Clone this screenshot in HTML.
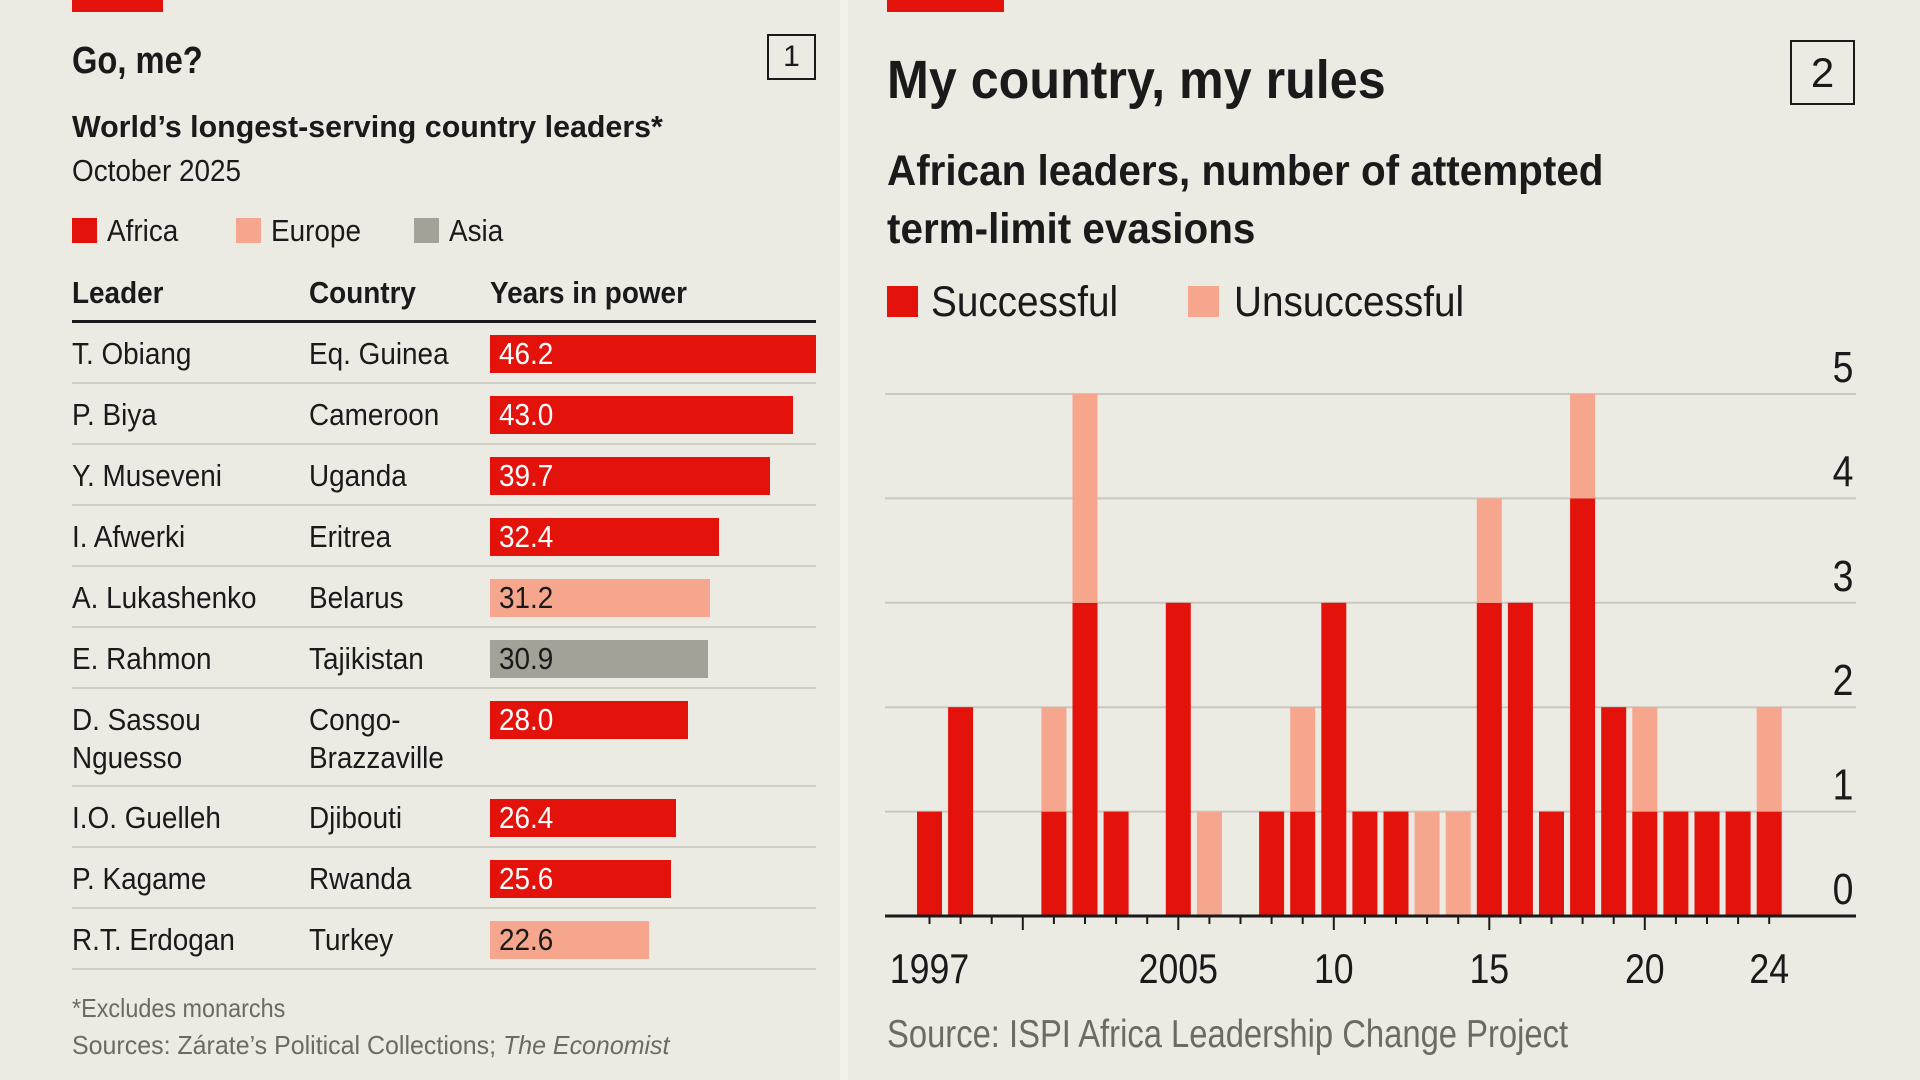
<!DOCTYPE html>
<html><head><meta charset="utf-8">
<style>
body{margin:0;width:1920px;height:1080px;background:#ecebe3;position:relative;overflow:hidden;font-family:"Liberation Sans",sans-serif;color:#1a1a1a}
.t{position:absolute;white-space:nowrap;transform:scaleX(.9);transform-origin:0 0;line-height:1}
.b{font-weight:bold}
.box{position:absolute;border:2px solid #1a1a1a;box-sizing:border-box;text-align:center}
.sq{position:absolute}
</style></head><body>
<div style="position:absolute;left:840px;top:0;width:8px;height:1080px;background:#f2f1ea"></div>
<div style="position:absolute;left:72px;top:0;width:91px;height:12px;background:#e3120b"></div>
<div class="t b" style="left:72px;top:42px;font-size:38px;transform:scaleX(.86)">Go, me?</div>
<div class="box" style="left:767px;top:34px;width:49px;height:46px;font-size:30px;line-height:42px">1</div>
<div class="t b" style="left:72px;top:111px;font-size:31px;transform:scaleX(.98)">World’s longest-serving country leaders*</div>
<div class="t" style="left:72px;top:155px;font-size:31px">October 2025</div>
<div class="sq" style="left:72px;top:218px;width:25px;height:25px;background:#e3120b"></div>
<div class="t" style="left:107px;top:215px;font-size:31px">Africa</div>
<div class="sq" style="left:236px;top:218px;width:25px;height:25px;background:#f6a68d"></div>
<div class="t" style="left:271px;top:215px;font-size:31px">Europe</div>
<div class="sq" style="left:414px;top:218px;width:25px;height:25px;background:#a3a198"></div>
<div class="t" style="left:449px;top:215px;font-size:31px">Asia</div>
<div class="t b" style="left:72px;top:277px;font-size:31px">Leader</div>
<div class="t b" style="left:309px;top:277px;font-size:31px">Country</div>
<div class="t b" style="left:490px;top:277px;font-size:31px">Years in power</div>
<div style="position:absolute;left:72px;top:320px;width:744px;height:3px;background:#1a1a1a"></div>
<div id="table"></div>
<div class="t" style="left:72px;top:995px;font-size:26px;color:#6b6a64">*Excludes monarchs</div>
<div class="t" style="left:72px;top:1032px;font-size:26px;color:#6b6a64;transform:scaleX(.96)">Sources: Zárate’s Political Collections; <i>The Economist</i></div>

<div style="position:absolute;left:887px;top:0;width:117px;height:12px;background:#e3120b"></div>
<div class="t b" style="left:887px;top:53px;font-size:54px;transform:scaleX(.93)">My country, my rules</div>
<div class="box" style="left:1790px;top:40px;width:65px;height:65px;font-size:42px;line-height:61px">2</div>
<div class="t b" style="left:887px;top:142px;font-size:43px;line-height:58px;transform:scaleX(.94)">African leaders, number of attempted<br>term-limit evasions</div>
<div class="sq" style="left:887px;top:286px;width:31px;height:31px;background:#e3120b"></div>
<div class="t" style="left:931px;top:281px;font-size:43px">Successful</div>
<div class="sq" style="left:1188px;top:286px;width:31px;height:31px;background:#f6a68d"></div>
<div class="t" style="left:1234px;top:281px;font-size:43px">Unsuccessful</div>
<svg id="chart" style="position:absolute;left:0;top:0" width="1920" height="1080"></svg>
<div class="t" style="left:887px;top:1015px;font-size:39px;color:#6b6a64;transform:scaleX(.84)">Source: ISPI Africa Leadership Change Project</div>

<script>
const leaders=["T. Obiang","P. Biya","Y. Museveni","I. Afwerki","A. Lukashenko","E. Rahmon","D. Sassou<br>Nguesso","I.O. Guelleh","P. Kagame","R.T. Erdogan"];
const countries=["Eq. Guinea","Cameroon","Uganda","Eritrea","Belarus","Tajikistan","Congo-<br>Brazzaville","Djibouti","Rwanda","Turkey"];
const yearsInPower=[46.2,43.0,39.7,32.4,31.2,30.9,28.0,26.4,25.6,22.6];
const regions=["Africa","Africa","Africa","Africa","Europe","Asia","Africa","Africa","Africa","Europe"];

const years=[1997,1998,1999,2000,2001,2002,2003,2004,2005,2006,2007,2008,2009,2010,2011,2012,2013,2014,2015,2016,2017,2018,2019,2020,2021,2022,2023,2024];
const successful=[1,2,0,0,1,3,1,0,3,0,0,1,1,3,1,1,0,0,3,3,1,4,2,1,1,1,1,1];
const unsuccessful=[0,0,0,0,1,2,0,0,0,1,0,0,1,0,0,0,1,1,1,0,0,1,0,1,0,0,0,1];
const yTicks=[0,1,2,3,4,5];
const xLabels=["1997","2005","10","15","20","24"];
const xLabelYears=[1997,2005,2010,2015,2020,2024];

const colors={Africa:"#e3120b",Europe:"#f6a68d",Asia:"#a3a198"};
const tbl=document.getElementById('table');
const barX0=490, pxPerYear=326/46.2;
let rowTop=323;
leaders.forEach((l,i)=>{
  const h=(i===6)?98:61;
  const row=document.createElement('div');
  
  
  row.style.cssText=`position:absolute;left:0;top:${rowTop}px;width:840px;height:${h}px`;
  const bar=document.createElement('div');
  
  
  bar.style.cssText=`position:absolute;left:${barX0}px;top:12px;height:38px;width:${yearsInPower[i]*pxPerYear}px;background:${colors[regions[i]]}`;
  row.appendChild(bar);
  const val=document.createElement('div');
  
  
  val.className='t';
  val.style.cssText=`left:${barX0+9}px;top:15px;font-size:31px;color:${regions[i]==="Africa"?"#fff":"#1a1a1a"}`;
  val.textContent=yearsInPower[i].toFixed(1);
  row.appendChild(val);
  const ln=document.createElement('div');
  
  
  ln.className='t';
  ln.style.cssText='left:72px;top:12px;font-size:31px;line-height:38px';
  ln.innerHTML=l;
  row.appendChild(ln);
  const cn=document.createElement('div');
  
  
  cn.className='t';
  cn.style.cssText='left:309px;top:12px;font-size:31px;line-height:38px';
  cn.innerHTML=countries[i];
  row.appendChild(cn);
  const sep=document.createElement('div');
  
  
  sep.style.cssText=`position:absolute;left:72px;top:${h-2}px;width:744px;height:2px;background:#cfcdc4`;
  row.appendChild(sep);
  tbl.appendChild(row);
  rowTop+=h;
});

const svg=document.getElementById('chart');
const NS='http://www.w3.org/2000/svg';
const y0=916, unit=104.4, x0=929.5, pitch=31.1, bw=25;
const yS=v=>y0-v*unit;
const xS=yr=>x0+(yr-1997)*pitch;
function mk(tag,attrs){const e=document.createElementNS(NS,tag);for(const k in attrs)e.setAttribute(k,attrs[k]);svg.appendChild(e);return e;}
yTicks.forEach(v=>{
  if(v>0){const g=mk('line',{x1:885,x2:1856,y1:yS(v),y2:yS(v),stroke:'#c9c7bf','stroke-width':2});
  
  }
  const t=mk('text',{transform:`translate(1843,${yS(v)-12}) scale(0.85,1)`,'text-anchor':'middle','font-size':44,fill:'#1a1a1a'});
  
  
  t.textContent=v;
});
years.forEach((yr,i)=>{
  const s=successful[i],u=unsuccessful[i];
  if(s>0){const r=mk('rect',{x:xS(yr)-bw/2,y:yS(s),width:bw,height:s*unit,fill:'#e3120b'});
  
  }
  if(u>0){const r=mk('rect',{x:xS(yr)-bw/2,y:yS(s+u),width:bw,height:u*unit,fill:'#f6a68d'});
  
  }
  const long=(yr%5===0);
  const tk=mk('line',{x1:xS(yr),x2:xS(yr),y1:y0,y2:y0+(long?14:8),stroke:'#1a1a1a','stroke-width':2});
  
  
});
const ax=mk('line',{x1:885,x2:1856,y1:y0,y2:y0,stroke:'#1a1a1a','stroke-width':3});


xLabels.forEach((lab,i)=>{
  const t=mk('text',{transform:`translate(${xS(xLabelYears[i])},983) scale(0.85,1)`,'text-anchor':'middle','font-size':42,fill:'#1a1a1a'});
  
  
  t.textContent=lab;
});
</script>
</body></html>
